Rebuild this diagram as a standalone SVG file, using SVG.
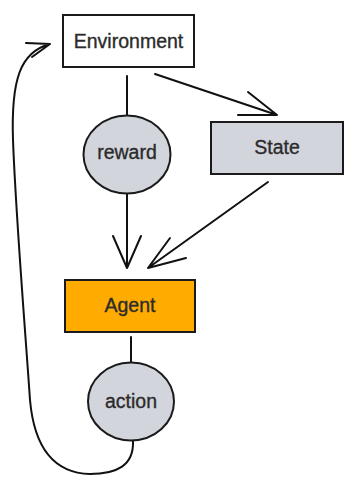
<svg xmlns="http://www.w3.org/2000/svg" width="347" height="477" viewBox="0 0 347 477">
  <style>
    .box { stroke: #1a1a1a; stroke-width: 2; }
    .circ { fill: #d3d5dc; stroke: #1a1a1a; stroke-width: 2; }
    .lbl { font-family: "Liberation Sans", Arial, sans-serif; font-size: 19.5px; fill: #2b2b2b; stroke: #2b2b2b; stroke-width: 0.35; text-anchor: middle; }
    .edge { fill: none; stroke: #111; stroke-width: 2; stroke-linecap: round; stroke-linejoin: round; }
  </style>
  <rect width="347" height="477" fill="#ffffff"/>

  <g id="connectors">
    <!-- Environment to reward -->
    <path class="edge" d="M127 76 L127 115"/>
    <!-- Environment to State -->
    <path class="edge" d="M155 74 L277 115 M248 92 L277 115 L238 115"/>
    <!-- reward to Agent -->
    <path class="edge" d="M127 194 L127 268 M113 236 L127 268 L141 236"/>
    <!-- State to Agent -->
    <path class="edge" d="M268 182 L148 268 M170 238 L148 268 L186 258"/>
    <!-- Agent to action -->
    <path class="edge" d="M131 337 L131 362"/>
    <!-- action back to Environment -->
    <path class="edge" d="M133 441 C134 466 116 474 90 474 C52 473 34 445 30 400 C26 340 16 220 13 140 C11 80 20 52 50 44 M26 43 L50 44 L32 57"/>
  </g>

  <g id="environment">
    <rect class="box" x="63" y="15" width="131" height="52" fill="#ffffff"/>
    <text class="lbl" x="128.5" y="48">Environment</text>
  </g>

  <g id="reward">
    <ellipse class="circ" cx="127" cy="154.5" rx="43.5" ry="39"/>
    <text class="lbl" x="127" y="158.5">reward</text>
  </g>

  <g id="state">
    <rect class="box" x="211" y="122" width="132" height="52" fill="#d3d5dc"/>
    <text class="lbl" x="277" y="154">State</text>
  </g>

  <g id="agent">
    <rect class="box" x="65" y="280" width="130" height="52" fill="#ffab00"/>
    <text class="lbl" x="130" y="312">Agent</text>
  </g>

  <g id="action">
    <ellipse class="circ" cx="131" cy="401.5" rx="43" ry="39"/>
    <text class="lbl" x="131" y="408">action</text>
  </g>
</svg>
